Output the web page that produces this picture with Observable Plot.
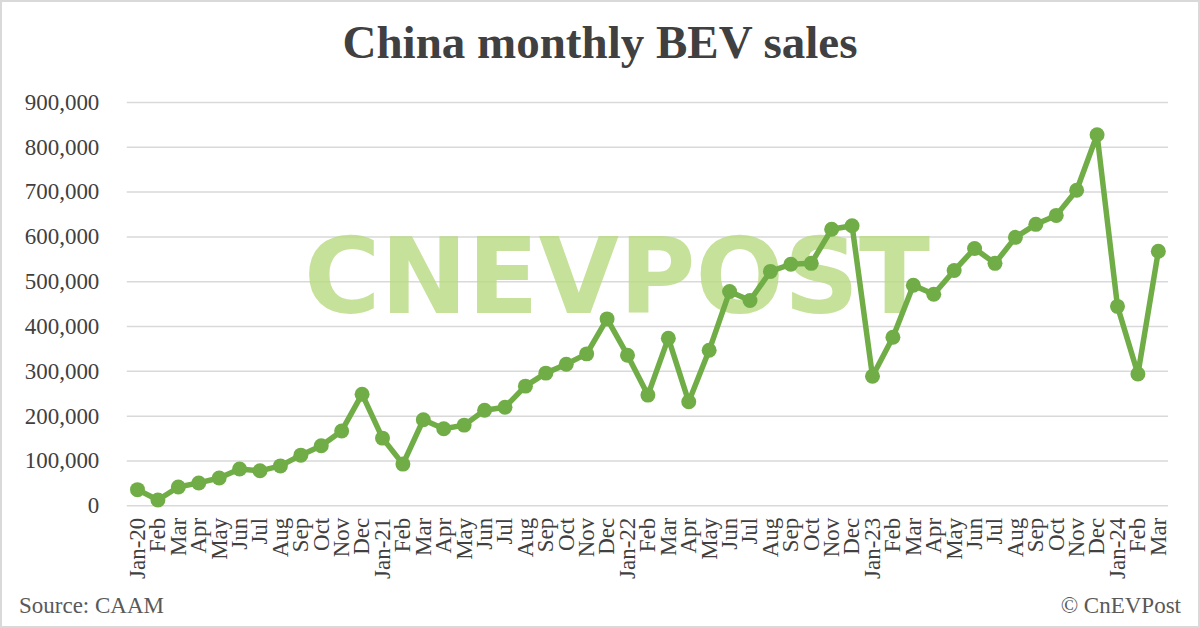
<!DOCTYPE html>
<html>
<head>
<meta charset="utf-8">
<script src="https://cdn.jsdelivr.net/npm/d3@7"></script>
<script src="https://cdn.jsdelivr.net/npm/@observablehq/plot@0.6"></script>
<style>
  html, body { margin: 0; padding: 0; background: #fff; }
  #wrap { position: relative; width: 1200px; height: 628px; box-sizing: border-box; border: 2px solid #d9d9d9; overflow: hidden; background: #fff; }
  #title { position: absolute; left: 0; top: 0; width: 1196px; height: 80px; text-align: center; font-family: "Liberation Serif", "Times New Roman", serif; font-weight: bold; font-size: 47px; line-height: 80px; color: #404040; }
  #chart { position: absolute; left: -2px; top: 78px; }
  #source { position: absolute; left: 17px; top: 591px; font-family: "Liberation Serif", serif; font-size: 23px; color: #595959; }
  #copy { position: absolute; right: 17px; top: 591px; font-family: "Liberation Serif", serif; font-size: 23px; color: #595959; }
</style>
</head>
<body>
<div id="wrap">
  <div id="title">China monthly BEV sales</div>
  <div id="chart"></div>
  <div id="source">Source: CAAM</div>
  <div id="copy">© CnEVPost</div>
</div>
<script>
const months = ["Jan-20","Feb","Mar","Apr","May","Jun","Jul","Aug","Sep","Oct","Nov","Dec",
  "Jan-21","Feb","Mar","Apr","May","Jun","Jul","Aug","Sep","Oct","Nov","Dec",
  "Jan-22","Feb","Mar","Apr","May","Jun","Jul","Aug","Sep","Oct","Nov","Dec",
  "Jan-23","Feb","Mar","Apr","May","Jun","Jul","Aug","Sep","Oct","Nov","Dec",
  "Jan-24","Feb","Mar"];
const sales = [36000, 13000, 42000, 51000, 62000, 82000, 78000, 89000, 113000, 134000, 167000, 249000,
  151000, 93000, 192000, 172000, 180000, 213000, 220000, 267000, 296000, 316000, 339000, 417000,
  336000, 247000, 374000, 232000, 347000, 478000, 458000, 523000, 539000, 541000, 617000, 625000,
  289000, 376000, 492000, 472000, 525000, 574000, 541000, 599000, 628000, 648000, 704000, 828000,
  445000, 294000, 568000];
const yTicks = [0, 100000, 200000, 300000, 400000, 500000, 600000, 700000, 800000, 900000];
const watermark = ["CNEVPOST"];

const data = months.map((m, i) => ({i, month: m, value: sales[i]}));
const green = "#70ad47";

const chart = Plot.plot({
  width: 1200,
  height: 502,
  marginLeft: 127,
  marginRight: 30,
  marginTop: 22,
  marginBottom: 76,
  style: {fontFamily: "Liberation Serif, serif", background: "transparent"},
  x: {type: "linear", domain: [-0.5, months.length - 0.5], axis: null, label: null},
  y: {domain: [0, 900000], axis: null, label: null},
  marks: [
    Plot.gridY(yTicks, {stroke: "#d9d9d9", strokeOpacity: 1, strokeWidth: 1.5}),
    Plot.text(watermark, {frameAnchor: "middle", dx: -31, dy: -25, text: d => d, fontSize: 106,
      fontWeight: 900, fontFamily: "DejaVu Sans", fill: "#b8da80", fillOpacity: 0.8, lineAnchor: "middle"}),
    Plot.axisY(yTicks, {tickSize: 0, tickPadding: 28, fontSize: 23, fill: "#404040", label: null,
      tickFormat: d => d3.format(",")(d)}),
    Plot.axisX(d3.range(months.length), {tickSize: 0, tickPadding: 12, tickRotate: -90, fontSize: 23,
      fill: "#404040", label: null, tickFormat: i => months[i], anchor: "bottom"}),
    Plot.line(data, {x: "i", y: "value", stroke: green, strokeWidth: 5.5}),
    Plot.dot(data, {x: "i", y: "value", r: 7.5, fill: green, stroke: "none"})
  ]
});
document.getElementById("chart").appendChild(chart);
// fit the watermark text to its logo width
d3.select(chart).selectAll("text").filter(function(){ return this.textContent === "CNEVPOST"; })
  .attr("textLength", 627).attr("lengthAdjust", "spacingAndGlyphs");
</script>
</body>
</html>
